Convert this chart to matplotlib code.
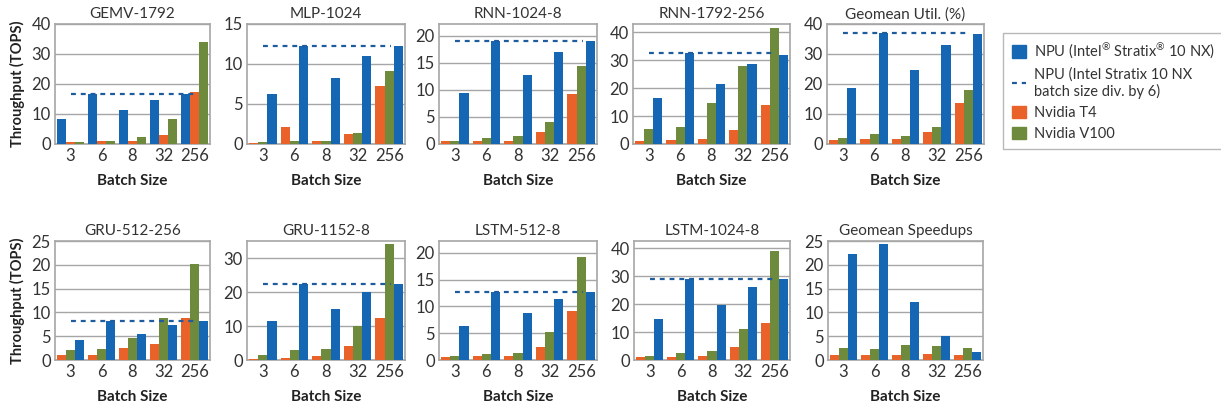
import matplotlib
matplotlib.use("Agg")
import matplotlib.pyplot as plt
import numpy as np
from matplotlib.patches import Patch
from matplotlib.lines import Line2D

plt.rcParams['font.family'] = ['Lato', 'DejaVu Sans']
plt.rcParams['mathtext.default'] = 'regular'

batch_sizes = ["3", "6", "8", "32", "256"]

titulos = ["GEMV-1792", "MLP-1024", "RNN-1024-8", "RNN-1792-256", "Geomean Util. (%)",
           "GRU-512-256", "GRU-1152-8", "LSTM-512-8", "LSTM-1024-8", "Geomean Speedups"]

# valores por panel (mismo orden que titulos)
npu = [
    [8.3, 16.7, 11.3, 14.7, 16.7],
    [6.3, 12.3, 8.3, 11.0, 12.2],
    [9.5, 19.1, 12.7, 17.0, 19.0],
    [16.5, 32.5, 21.6, 28.8, 32.0],
    [18.8, 37.0, 24.8, 33.1, 36.7],
    [4.2, 8.2, 5.5, 7.4, 8.2],
    [11.4, 22.5, 15.1, 19.9, 22.4],
    [6.4, 12.6, 8.7, 11.4, 12.7],
    [14.8, 29.0, 19.5, 26.1, 29.0],
    [22.2, 24.3, 12.2, 5.0, 1.7],
]
t4 = [
    [0.6, 0.9, 0.9, 2.9, 17.3],
    [0.1, 2.1, 0.35, 1.2, 7.2],
    [0.5, 0.6, 0.6, 2.3, 9.3],
    [1.0, 1.4, 1.8, 5.0, 14.0],
    [1.3, 1.7, 1.7, 4.0, 13.8],
    [1.0, 1.0, 2.6, 3.3, 8.8],
    [0.4, 0.7, 1.3, 4.0, 12.5],
    [0.5, 0.7, 0.7, 2.4, 9.2],
    [1.0, 0.9, 1.3, 4.5, 13.3],
    [1.0, 1.0, 1.0, 1.2, 1.0],
]
v100 = [
    [0.6, 0.9, 2.2, 8.2, 34.0],
    [0.2, 0.35, 0.35, 1.35, 9.1],
    [0.6, 1.1, 1.4, 4.0, 14.5],
    [5.3, 6.1, 14.7, 27.8, 41.5],
    [2.0, 3.4, 2.7, 5.7, 18.1],
    [2.1, 2.3, 4.6, 8.8, 20.1],
    [1.6, 2.8, 3.1, 10.1, 34.0],
    [0.7, 1.1, 1.3, 5.3, 19.3],
    [1.3, 2.4, 3.1, 11.0, 39.0],
    [2.5, 2.3, 3.2, 2.9, 2.5],
]
npu_div6 = [16.7, 12.2, 19.0, 32.5, 37.0, 8.2, 22.4, 12.6, 29.0, None]

y_max = [40, 15, 22.2, 43, 40, 25, 35, 22.2, 42.5, 25]
y_paso = [10, 5, 5, 10, 10, 5, 10, 5, 10, 5]

# cajas de los ejes en pixeles: izquierda, arriba, derecha, abajo
cajas = [
    (55, 24, 210, 144), (247, 24, 405, 144), (439, 24, 597, 144),
    (633, 24, 790, 144), (827, 24, 984, 144),
    (55, 241, 210, 360), (247, 241, 405, 360), (439, 241, 597, 360),
    (634, 241, 790, 360), (828, 241, 983, 360),
]

AZUL = "#1567B4"
NARANJA = "#E8622A"
VERDE = "#6E8A3D"
AZUL_LINEA = "#1F5C9E"
GRIS = "#A6A6A6"
TEXTO = "#333333"

W, H = 1221, 411


def dibujar_panel(fig, i):
    l, t, r, b = cajas[i]
    ax = fig.add_axes([l / W, 1 - b / H, (r - l) / W, (b - t) / H])
    x = np.arange(len(batch_sizes))
    w = 0.29
    if i == 0:
        orden = [(npu[i], AZUL), (t4[i], NARANJA), (v100[i], VERDE)]
    else:
        orden = [(t4[i], NARANJA), (v100[i], VERDE), (npu[i], AZUL)]
    for k, (vals, color) in enumerate(orden):
        ax.bar(x + (k - 1) * w, vals, w, color=color, zorder=3, linewidth=0)
    if npu_div6[i] is not None:
        ax.hlines(npu_div6[i], 0, 4.05, colors=AZUL_LINEA, linestyles=(0, (2.2, 2.2)),
                  linewidth=1.6, zorder=4)
    ax.set_xlim(-0.5, 4.5)
    ax.set_ylim(0, y_max[i])
    ax.set_yticks(np.arange(0, y_max[i] + 0.01, y_paso[i]))
    ax.yaxis.grid(True, color=GRIS, linewidth=1.0, zorder=0)
    ax.set_xticks(x)
    ax.set_xticklabels(batch_sizes)
    ax.tick_params(length=0, labelsize=12, colors=TEXTO, pad=3)
    for s in ax.spines.values():
        s.set_color(GRIS)
        s.set_linewidth(1.2)
    ax.set_title(titulos[i], fontsize=11, color=TEXTO, pad=4)
    ax.set_xlabel("Batch Size", fontsize=11, fontweight="bold", color="#222222", labelpad=7)
    if i in (0, 5):
        ax.set_ylabel("Throughput (TOPS)", fontsize=10.5, fontweight="bold", color="#222222",
                      labelpad=5)
    return ax


def main():
    fig = plt.figure(figsize=(W / 100, H / 100), dpi=100)
    for i in range(len(titulos)):
        dibujar_panel(fig, i)

    handles = [
        Patch(color=AZUL),
        Line2D([0], [0], color=AZUL_LINEA, linestyle=(0, (2.2, 2.2)), linewidth=1.6),
        Patch(color=NARANJA),
        Patch(color=VERDE),
    ]
    etiquetas = [
        "NPU (Intel$^{®}$ Stratix$^{®}$ 10 NX)",
        "NPU (Intel Stratix 10 NX\nbatch size div. by 6)",
        "Nvidia T4",
        "Nvidia V100",
    ]
    leg = fig.legend(handles, etiquetas, loc="upper left",
                     bbox_to_anchor=(1003 / W, 1 - 33 / H), fontsize=10.5,
                     frameon=True, fancybox=False, handlelength=1.0, handleheight=0.9,
                     handletextpad=0.5, labelspacing=0.45, borderpad=0.6,
                     borderaxespad=0, labelcolor=TEXTO)
    leg.get_frame().set_edgecolor(GRIS)
    leg.get_frame().set_linewidth(1.0)

    fig.savefig("out.png", dpi=100)


if __name__ == "__main__":
    main()
